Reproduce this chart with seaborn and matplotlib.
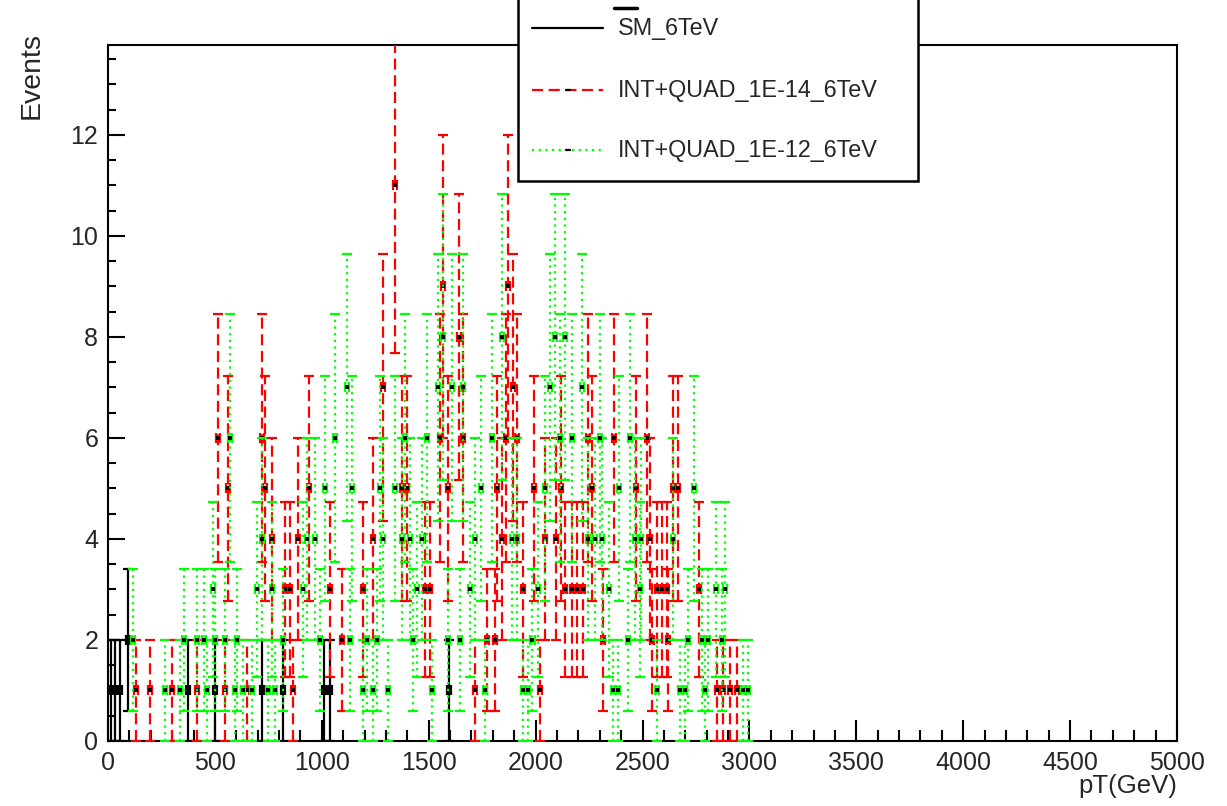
import numpy as np
import pandas as pd
import seaborn as sns
import matplotlib
matplotlib.use('Agg')
import matplotlib.pyplot as plt
from matplotlib.ticker import MultipleLocator
from matplotlib.patches import Rectangle
from matplotlib.lines import Line2D

# SM_6TeV
sm_pt = [15, 33, 55, 94, 374, 500, 720, 818, 1010, 1038, 1595]
sm_events = [1, 1, 1, 2, 1, 1, 1, 1, 1, 1, 1]

# INT+QUAD_1E-14_6TeV
red_pt = [130, 196, 300, 416, 514, 547, 561, 650, 720, 734, 767, 828, 851, 865, 889, 940,
          1038, 1094, 1192, 1239, 1286, 1342, 1375, 1398, 1482, 1506, 1553, 1567, 1590,
          1642, 1660, 1716, 1773, 1810, 1819, 1843, 1861, 1871, 1894, 1912, 1941, 1992,
          2020, 2044, 2095, 2119, 2137, 2170, 2193, 2222, 2245, 2264, 2315, 2367, 2469,
          2521, 2535, 2544, 2568, 2591, 2614, 2619, 2642, 2666, 2764, 2848, 2876, 2909, 2942]
red_events = [1, 1, 1, 1, 6, 1, 5, 1, 6, 5, 4, 3, 3, 1, 4, 5,
              3, 2, 3, 4, 7, 11, 5, 5, 3, 3, 6, 9, 5,
              8, 6, 1, 2, 2, 5, 4, 6, 9, 7, 6, 3, 5,
              1, 4, 4, 5, 3, 3, 3, 3, 6, 5, 2, 6, 5,
              6, 4, 2, 3, 3, 3, 2, 5, 5, 3, 1, 1, 1, 1]

# INT+QUAD_1E-12_6TeV
green_pt = [117, 267, 337, 355, 416, 450, 463, 491, 500, 547, 571, 594, 603, 631, 673, 697,
            720, 748, 767, 781, 818, 912, 931, 968, 992, 1015, 1062, 1117, 1132, 1141, 1193,
            1211, 1239, 1258, 1272, 1286, 1309, 1342, 1375, 1389, 1412, 1426, 1445, 1469,
            1492, 1515, 1543, 1567, 1590, 1609, 1646, 1660, 1693, 1716, 1745, 1763, 1796,
            1843, 1890, 1913, 1941, 1964, 1985, 2011, 2044, 2067, 2091, 2114, 2138, 2170,
            2217, 2245, 2278, 2301, 2310, 2343, 2362, 2385, 2390, 2432, 2442, 2465, 2488,
            2493, 2568, 2643, 2675, 2699, 2713, 2741, 2778, 2792, 2806, 2844, 2872, 2886,
            2970, 2993]
green_events = [2, 1, 1, 2, 2, 2, 1, 3, 2, 2, 6, 1, 2, 1, 1, 3,
                4, 1, 3, 1, 2, 3, 4, 4, 2, 5, 6, 7, 2, 5, 1,
                2, 1, 2, 5, 4, 1, 5, 4, 6, 4, 2, 3, 4,
                6, 1, 7, 8, 2, 7, 2, 7, 3, 4, 5, 1, 6,
                8, 4, 4, 1, 1, 2, 3, 5, 7, 8, 6, 8, 6,
                7, 4, 4, 6, 4, 3, 1, 1, 5, 2, 6, 4, 3,
                4, 1, 4, 1, 1, 2, 5, 2, 1, 2, 3, 2, 3,
                1, 1]

bin_half = 10

W, H = 1227, 806


def fx(px):
    return px / W


def fy(py):
    return 1 - py / H


sns.set_style('ticks')
plt.rcParams['font.family'] = ['Liberation Sans', 'DejaVu Sans']

fig = plt.figure(figsize=(W / 100, H / 100), dpi=100)
ax = fig.add_axes([fx(108), fy(741), fx(1177) - fx(108), fy(45) - fy(741)])


def draw_series(pt, events, color, dashes, z):
    df = pd.DataFrame({'pt': pt, 'events': events})
    eb = ax.errorbar(df['pt'], df['events'], xerr=bin_half, yerr=np.sqrt(df['events']),
                     fmt='none', ecolor=color, elinewidth=1.6, capsize=3.6, capthick=1.6, zorder=z)
    eb[2][1].set_linestyle(dashes)
    sns.scatterplot(data=df, x='pt', y='events', color='black', marker='s', s=5,
                    linewidth=0, ax=ax, zorder=z + 0.5)


draw_series(sm_pt, sm_events, 'black', '-', 2)
draw_series(red_pt, red_events, '#ff0000', (0, (5, 2.5)), 3)
draw_series(green_pt, green_events, '#00ff00', (0, (1, 2)), 4)

ax.set_xlim(0, 5000)
ax.set_ylim(0, 13.78)
ax.set_xlabel('')
ax.set_ylabel('')
ax.xaxis.set_major_locator(MultipleLocator(500))
ax.xaxis.set_minor_locator(MultipleLocator(100))
ax.yaxis.set_major_locator(MultipleLocator(2))
ax.yaxis.set_minor_locator(MultipleLocator(0.5))
ax.tick_params(which='both', direction='in', top=False, right=False, width=1.5, color='black')
ax.tick_params(axis='x', which='major', length=15, pad=7, labelsize=18)
ax.tick_params(axis='x', which='minor', length=8)
ax.tick_params(axis='y', which='major', length=12, pad=7, labelsize=18)
ax.tick_params(axis='y', which='minor', length=6)
for sp in ax.spines.values():
    sp.set_linewidth(1.5)
    sp.set_color('black')

fig.text(fx(1177), fy(786), 'pT(GeV)', ha='right', va='center', fontsize=18.5)
fig.text(fx(32), fy(32), 'Events', rotation=90, ha='center', va='top', fontsize=20.5)

# legend box (ROOT style)
fig.patches.append(Rectangle((fx(518), fy(181)), fx(918) - fx(518), fy(-5) - fy(181),
                             transform=fig.transFigure, facecolor='white', edgecolor='black',
                             linewidth=1.8, zorder=10))
entries = [('SM_6TeV', 'black', '-', 28),
           ('INT+QUAD_1E-14_6TeV', '#ff0000', (0, (5, 2.5)), 90),
           ('INT+QUAD_1E-12_6TeV', '#00ff00', (0, (1, 2)), 150)]
for label, color, ls, py in entries:
    fig.lines.append(Line2D([fx(532), fx(603)], [fy(py), fy(py)], transform=fig.transFigure,
                            color=color, linestyle=ls, linewidth=1.6, zorder=11))
    if color != 'black':
        fig.lines.append(Line2D([fx(566), fx(570)], [fy(py), fy(py)], transform=fig.transFigure,
                                color='black', linewidth=1.6, zorder=12))
    fig.text(fx(618), fy(py), label, ha='left', va='center', fontsize=16.8, zorder=12)
fig.lines.append(Line2D([fx(614), fx(637)], [fy(8), fy(8)], transform=fig.transFigure,
                        color='black', linewidth=2.5, zorder=12))

fig.savefig('out.png', dpi=100)
